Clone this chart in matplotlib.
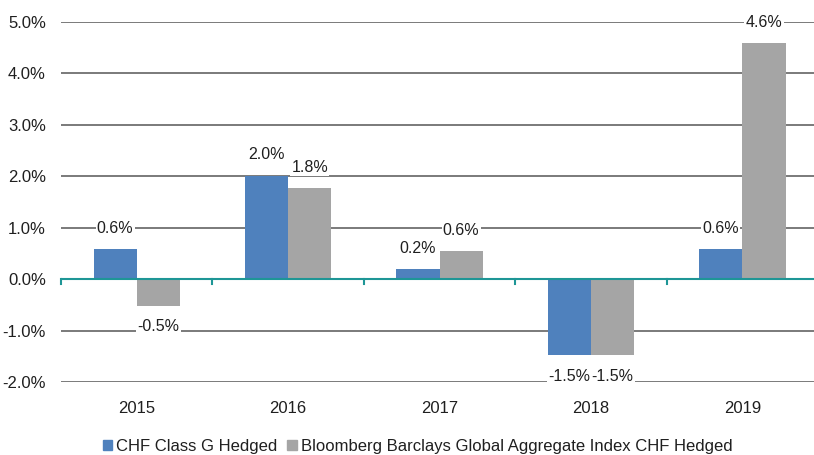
import numpy as np
import matplotlib.pyplot as plt
from matplotlib.patches import Patch

years = ["2015", "2016", "2017", "2018", "2019"]
class_g = [0.58, 2.01, 0.19, -1.48, 0.58]
bbga = [-0.52, 1.77, 0.54, -1.48, 4.59]
class_g_labels = ["0.6%", "2.0%", "0.2%", "-1.5%", "0.6%"]
bbga_labels = ["-0.5%", "1.8%", "0.6%", "-1.5%", "4.6%"]
series_names = ["CHF Class G Hedged",
                "Bloomberg Barclays Global Aggregate Index CHF Hedged"]

plt.rcParams['font.family'] = ['Liberation Sans', 'DejaVu Sans']
text_color = "#1f1f1f"
blue = "#4F81BD"
grey = "#A5A5A5"
teal = "#1E9696"

fig = plt.figure(figsize=(8.14, 4.55), dpi=100)
ax = fig.add_axes([0.075, 0.1604, 0.93, 0.7912])

x = np.arange(len(years))
w = 0.285
b1 = ax.bar(x - w / 2, class_g, w, color=blue, zorder=3)
b2 = ax.bar(x + w / 2, bbga, w, color=grey, zorder=3)

# value labels, white box so the gridline is broken behind them
for bars, labels in [(b1, class_g_labels), (b2, bbga_labels)]:
    for rect, lab in zip(bars, labels):
        h = rect.get_height()
        cx = rect.get_x() + rect.get_width() / 2
        off = 15 if h >= 0 else -15
        ax.annotate(lab, (cx, h), xytext=(0, off), textcoords="offset points",
                    ha="center", va="center", fontsize=11.5, color=text_color,
                    bbox=dict(boxstyle="square,pad=0.08", fc="white", ec="none"),
                    zorder=5)

ax.set_xlim(-0.5, 4.5)
ax.set_ylim(-2, 5)
yt = np.arange(-2, 6, 1)
ax.set_yticks(yt)
ax.set_yticklabels([f"{v:.1f}%" for v in yt])
ax.yaxis.grid(True, color="#7a7a7a", lw=1.4, zorder=0)
ax.tick_params(axis="y", length=0, pad=11, labelsize=12, labelcolor=text_color)

ax.set_xticks(x)
ax.set_xticklabels(years)
ax.tick_params(axis="x", length=0, pad=14, labelsize=12, labelcolor=text_color)

for s in ax.spines.values():
    s.set_visible(False)
ax.axhline(0, color=teal, lw=1.5, zorder=4)
for b in np.arange(-0.5, 4.6, 1):
    ax.plot([b, b], [0, -0.09], color=teal, lw=1.5, zorder=4, clip_on=False)

handles = [Patch(color=blue), Patch(color=grey)]
fig.legend(handles, series_names, loc="lower center", ncol=2,
           bbox_to_anchor=(0.513, -0.03), frameon=False, fontsize=12,
           handlelength=0.55, handleheight=0.55, handletextpad=0.25,
           columnspacing=0.6, labelcolor=text_color)

fig.savefig("out.png", dpi=100)
